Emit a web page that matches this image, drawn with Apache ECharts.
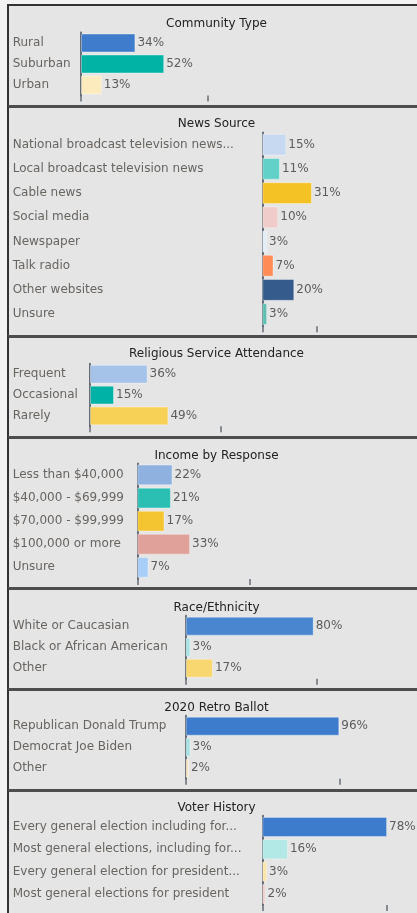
<!DOCTYPE html>
<html>
<head>
<meta charset="utf-8">
<title>Survey Breakdown</title>
<script src="https://cdn.jsdelivr.net/npm/echarts@6/dist/echarts.min.js"></script>
<style>
    html, body {
        margin: 0;
        padding: 0;
        width: 417px;
        height: 913px;
        overflow: hidden;
        background: #f3f3f3;
    }
    .panel {
        position: absolute;
        left: 7px;
        width: 417px;
        box-sizing: border-box;
        background: #e5e5e5;
        border-left: 2px solid #333;
        border-top: 3px solid #4d4d4d;
    }
    .panel.first {
        border-top: 2px solid #333;
    }
    .chart {
        position: absolute;
        left: 0;
        top: 0;
        width: 100%;
        height: 100%;
    }
</style>
</head>
<body>

<div class="panel first" style="top:4px;height:101px"><div class="chart" id="community_chart"></div></div>
<div class="panel" style="top:105px;height:230px"><div class="chart" id="news_chart"></div></div>
<div class="panel" style="top:335px;height:101px"><div class="chart" id="religion_chart"></div></div>
<div class="panel" style="top:436px;height:151px"><div class="chart" id="income_chart"></div></div>
<div class="panel" style="top:587px;height:101px"><div class="chart" id="race_chart"></div></div>
<div class="panel" style="top:688px;height:101px"><div class="chart" id="ballot_chart"></div></div>
<div class="panel" style="top:789px;height:130px"><div class="chart" id="voter_chart"></div></div>

<script>
// Community Type
const communityCats = ['Rural', 'Suburban', 'Urban'];
const communityVals = [34, 52, 13];

// News Source
const newsCats = [
    'National broadcast television news...',
    'Local broadcast television news',
    'Cable news',
    'Social media',
    'Newspaper',
    'Talk radio',
    'Other websites',
    'Unsure'
];
const newsVals = [15, 11, 31, 10, 3, 7, 20, 3];

// Religious Service Attendance
const religionCats = ['Frequent', 'Occasional', 'Rarely'];
const religionVals = [36, 15, 49];

// Income by Response
const incomeCats = ['Less than $40,000', '$40,000 - $69,999', '$70,000 - $99,999', '$100,000 or more', 'Unsure'];
const incomeVals = [22, 21, 17, 33, 7];

// Race/Ethnicity
const raceCats = ['White or Caucasian', 'Black or African American', 'Other'];
const raceVals = [80, 3, 17];

// 2020 Retro Ballot
const ballotCats = ['Republican Donald Trump', 'Democrat Joe Biden', 'Other'];
const ballotVals = [96, 3, 2];

// Voter History
const voterCats = [
    'Every general election including for...',
    'Most general elections, including for...',
    'Every general election for president...',
    'Most general elections for president'
];
const voterVals = [78, 16, 3, 2];

// single tick mark shown under each value axis (in %)
const tickMarks = [79, 34, 82, 70, 82, 96, 78];

// bar colours
const communityColors = ['#3f7ccb', '#00b3a5', '#fcebbd'];
const newsColors = ['#c7d9f0', '#62d2c8', '#f5c226', '#efcbca', '#e3ecf7', '#ff8b57', '#345b8c', '#5dbfb2'];
const religionColors = ['#a5c2e8', '#00b2a5', '#f7d155'];
const incomeColors = ['#8fb1e0', '#2bbfb4', '#f5c531', '#e0a19b', '#a8cef8'];
const raceColors = ['#4a86d0', '#a9e5e6', '#f8d771'];
const ballotColors = ['#3d7bcc', '#a9e2e2', '#f9e6bf'];
const voterColors = ['#3d7bcc', '#b2e8e5', '#fbe6aa', '#f0c9c9'];

// layout of each panel: axis x, grid top, band size, title top (chart-relative px)
const layouts = [
    { axisX: 72, top: 26.5, band: 21, titleTop: 7 },
    { axisX: 253.3, top: 24.6, band: 24.2, titleTop: 5.3 },
    { axisX: 81, top: 25.8, band: 20.85, titleTop: 5.3 },
    { axisX: 128.3, top: 24.4, band: 23.1, titleTop: 6 },
    { axisX: 176.7, top: 25.7, band: 21, titleTop: 6.7 },
    { axisX: 176.7, top: 24.7, band: 21, titleTop: 5.7 },
    { axisX: 253.3, top: 23.8, band: 22.33, titleTop: 4.7 }
];

const LABEL_X = 3.7;
const PX_PER_100 = 160;
const FONT = 'DejaVu Sans';

document.addEventListener('DOMContentLoaded', function () {
    initChart(document.getElementById('community_chart'), communityCats, communityVals, communityColors, "Community Type", 0);
    initChart(document.getElementById('news_chart'), newsCats, newsVals, newsColors, "News Source", 1);
    initChart(document.getElementById('religion_chart'), religionCats, religionVals, religionColors, "Religious Service Attendance", 2);
    initChart(document.getElementById('income_chart'), incomeCats, incomeVals, incomeColors, "Income by Response", 3);
    initChart(document.getElementById('race_chart'), raceCats, raceVals, raceColors, "Race/Ethnicity", 4);
    initChart(document.getElementById('ballot_chart'), ballotCats, ballotVals, ballotColors, "2020 Retro Ballot", 5);
    initChart(document.getElementById('voter_chart'), voterCats, voterVals, voterColors, "Voter History", 6);
});

/**
 * Init one horizontal bar panel
 *
 * @param {dom object} dom
 * @param {array} cats
 * @param {array} vals
 * @param {array} colors
 * @param {string} chart_name
 * @param {number} idx
 */
function initChart(dom, cats, vals, colors, chart_name, idx) {
    let chart = echarts.init(dom, null, { renderer: 'canvas' });
    let lay = layouts[idx];
    let option;

    option = {
        animation: false,
        title: {
            text: chart_name,
            left: 'center',
            top: lay.titleTop,
            textStyle: {
                fontFamily: FONT,
                fontSize: 12,
                fontWeight: 'normal',
                color: '#222'
            }
        },
        grid: {
            left: lay.axisX,
            top: lay.top,
            width: PX_PER_100,
            height: lay.band * cats.length,
            containLabel: false,
            outerBoundsMode: 'none'
        },
        xAxis: {
            type: 'value',
            min: 0,
            max: 100,
            axisLine: { show: false },
            axisLabel: { show: false },
            splitLine: { show: false },
            axisTick: {
                show: true,
                customValues: [0, tickMarks[idx]],
                length: 6,
                lineStyle: { color: '#656d76', width: 1.5 }
            }
        },
        yAxis: {
            type: 'category',
            inverse: true,
            data: cats,
            axisTick: { show: false },
            axisLine: {
                show: true,
                lineStyle: { color: '#656d76', width: 2 }
            },
            axisLabel: {
                align: 'left',
                margin: lay.axisX - LABEL_X,
                fontFamily: FONT,
                fontSize: 12,
                color: '#686460'
            }
        },
        series: [
            {
                name: chart_name,
                type: 'bar',
                barCategoryGap: '10%',
                itemStyle: {
                    borderColor: 'rgba(255,255,255,0.35)',
                    borderWidth: 1
                },
                label: {
                    show: true,
                    position: 'right',
                    distance: 2,
                    formatter: '{c}%',
                    fontFamily: FONT,
                    fontSize: 12,
                    color: '#5c5c5c'
                },
                data: vals.map(function (v, i) {
                    return { value: v, itemStyle: { color: colors[i] } };
                })
            }
        ]
    };

    option && chart.setOption(option);
}
</script>
</body>
</html>
